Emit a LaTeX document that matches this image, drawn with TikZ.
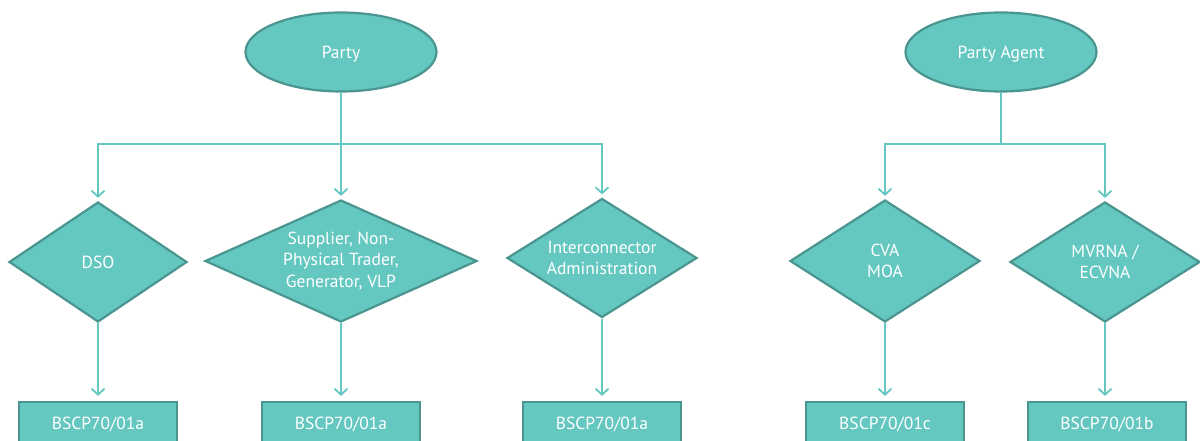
\documentclass[tikz,border=0pt]{standalone}
\usepackage{fontspec}
\setmainfont{PT Sans}
\usetikzlibrary{shapes.geometric,arrows.meta}
\definecolor{tfill}{HTML}{64C8C1}
\definecolor{tdraw}{HTML}{4A958F}
\definecolor{tline}{HTML}{64C8C1}
\tikzset{
  every node/.style={font=\fontsize{17.5}{21.5}\selectfont, text=white},
  base/.style={fill=tfill, draw=tdraw, line width=2.2pt, inner sep=0pt},
  oval/.style={base, ellipse, minimum width=191, minimum height=79},
  dia/.style={base, diamond, minimum width=190, minimum height=120},
  box/.style={base, rectangle, minimum width=158, minimum height=44},
  lbl/.style={align=center, inner sep=0pt},
  conn/.style={draw=tline, line width=1.8pt},
  arr/.style={conn, -{Straight Barb[length=6pt,width=13pt,line width=1.8pt]}, shorten >=3pt},
}
\begin{document}
\begin{tikzpicture}[x=1pt,y=1pt]
\useasboundingbox (0,0) rectangle (1200,-441);
\clip (0,0) rectangle (1200,-441);
% top nodes
\node[oval] (party) at (341,-52) {};
\node[lbl] at ([yshift=-2pt]party) {Party};
\node[oval] (agent) at (1001,-52) {};
\node[lbl] at ([yshift=-2pt]agent) {Party Agent};
% diamonds
\node[dia, minimum width=178] (d1) at (98,-262) {};
\node[lbl] at (d1) {DSO};
\node[dia, minimum width=272, minimum height=122] (d2) at (341,-261) {};
\node[lbl] at (d2) {Supplier, Non-\\Physical Trader,\\Generator, VLP};
\node[dia, minimum height=119] (d3) at (602,-258) {};
\node[lbl] at (d3) {Interconnector\\Administration};
\node[dia, minimum height=122] (d4) at (885,-261) {};
\node[lbl] at (d4) {CVA\\MOA};
\node[dia] (d5) at (1105,-262) {};
\node[lbl] at (d5) {MVRNA /\\ECVNA};
% boxes
\node[box] (b1) at (98,-424) {BSCP70/01a};
\node[box] (b2) at (341,-424) {BSCP70/01a};
\node[box] (b3) at (602,-424) {BSCP70/01a};
\node[box] (b4) at (885,-424) {BSCP70/01c};
\node[box] (b5) at (1107,-424) {BSCP70/01b};
% buses
\coordinate (pb) at (341,-144);
\coordinate (ab) at (1001,-144);
\draw[arr] (party.south) -- (pb) -| (d1.north);
\draw[arr] (party.south) -- (d2.north);
\draw[arr] (party.south) -- (pb) -| (d3.north);
\draw[arr] (agent.south) -- (ab) -| (d4.north);
\draw[arr] (agent.south) -- (ab) -| (d5.north);
% down arrows
\draw[arr, shorten >=5pt] (d1.south) -- (b1.north);
\draw[arr, shorten >=5pt] (d2.south) -- (b2.north);
\draw[arr, shorten >=5pt] (d3.south) -- (b3.north);
\draw[arr, shorten >=5pt] (d4.south) -- (b4.north);
\draw[arr, shorten >=5pt] (d5.south) -- (d5.south |- b5.north);
\end{tikzpicture}
\end{document}
